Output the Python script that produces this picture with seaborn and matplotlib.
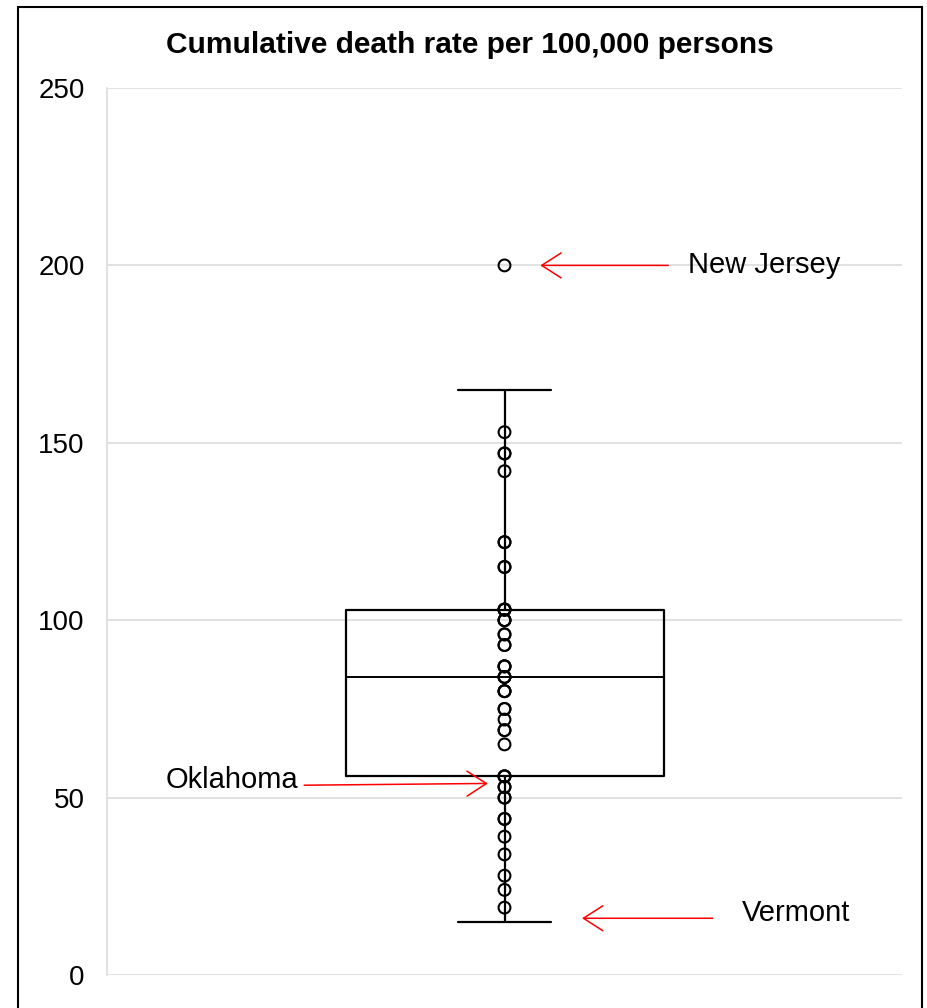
import numpy as np
import pandas as pd
import matplotlib.pyplot as plt
import seaborn as sns
from matplotlib.patches import Rectangle

# Cumulative death rate per 100,000, one value per state (read off the chart,
# overlapping circles show up as repeated values)
rates = [15, 19, 24, 28, 34, 39, 44, 44, 50, 50, 53, 53, 56, 56, 56,
         65, 69, 69, 72, 75, 75, 80, 80, 80, 84, 84, 84, 87, 87, 87,
         93, 93, 96, 96, 100, 100, 100, 103, 103, 103, 103, 115, 115,
         122, 122, 142, 147, 147, 153, 165, 200]

# Labelled states
states = ["New Jersey", "Oklahoma", "Vermont"]
state_rates = [200, 54, 16]

yticks = [0, 50, 100, 150, 200, 250]
title = "Cumulative death rate per 100,000 persons"

sns.set_style("white")
plt.rcParams["font.family"] = ["Liberation Sans", "DejaVu Sans"]
plt.rcParams["text.color"] = "black"
plt.rcParams["ytick.color"] = "black"

df = pd.DataFrame({"rate": rates})

# whisker ends (1.5 IQR rule) get no circle, like the original
q1, q3 = np.percentile(rates, [25, 75])
iqr = q3 - q1
hi = max(r for r in rates if r <= q3 + 1.5 * iqr)
lo = min(r for r in rates if r >= q1 - 1.5 * iqr)
inner = df[(df["rate"] > lo) & (df["rate"] != hi)]

fig = plt.figure(figsize=(9.28, 10.08), dpi=100)
ax = fig.add_axes([0.1153, 0.0327, 0.8567, 0.88])

sns.boxplot(data=df, y="rate", ax=ax, width=0.4, fill=False, color="black",
            linewidth=1.6, showfliers=False, capwidths=0.116,
            medianprops=dict(linewidth=1.4, color="black"))
sns.stripplot(data=inner, y="rate", ax=ax, jitter=False, size=8.5,
              color="black", edgecolor="black", linewidth=1.5)
ax.collections[-1].set_facecolor("none")

ax.set_xlim(-0.5, 0.5)
ax.set_ylim(0, 250)
ax.set_yticks(yticks)
ax.set_xticks([])
ax.set_xlabel("")
ax.set_ylabel("")
ax.yaxis.grid(True, color="#d9d9d9", linewidth=1.1)
ax.set_axisbelow(True)
for s in ["top", "right", "bottom"]:
    ax.spines[s].set_visible(False)
ax.spines["left"].set_color("#d9d9d9")
ax.spines["left"].set_linewidth(1.1)
ax.tick_params(axis="y", labelsize=20, length=0, pad=16, labelcolor="black")

# red arrows pointing at the labelled states
arrow = dict(arrowstyle="->,head_length=0.7,head_width=0.45", color="red",
             lw=1.1, mutation_scale=20, shrinkA=0, shrinkB=0)
ax.annotate("", xy=(0.045, state_rates[0]), xytext=(0.206, state_rates[0]), arrowprops=arrow)
ax.text(0.231, state_rates[0], states[0], va="center", fontsize=21)

ax.annotate("", xy=(-0.021, state_rates[1]), xytext=(-0.252, state_rates[1] - 0.5), arrowprops=arrow)
ax.text(-0.26, state_rates[1] + 1, states[1], va="center", ha="right", fontsize=21)

ax.annotate("", xy=(0.0975, state_rates[2]), xytext=(0.262, state_rates[2]), arrowprops=arrow)
ax.text(0.299, state_rates[2] + 1.5, states[2], va="center", fontsize=21)

fig.text(470 / 928, 1 - 45 / 1008, title, ha="center", va="center",
         fontsize=21.5, fontweight="bold")

# chart border
fig.add_artist(Rectangle((18 / 928, -0.1), 904 / 928, 0.9931 + 0.1,
                         transform=fig.transFigure, fill=False,
                         edgecolor="black", linewidth=1.5))

fig.savefig("out.png", dpi=100)
